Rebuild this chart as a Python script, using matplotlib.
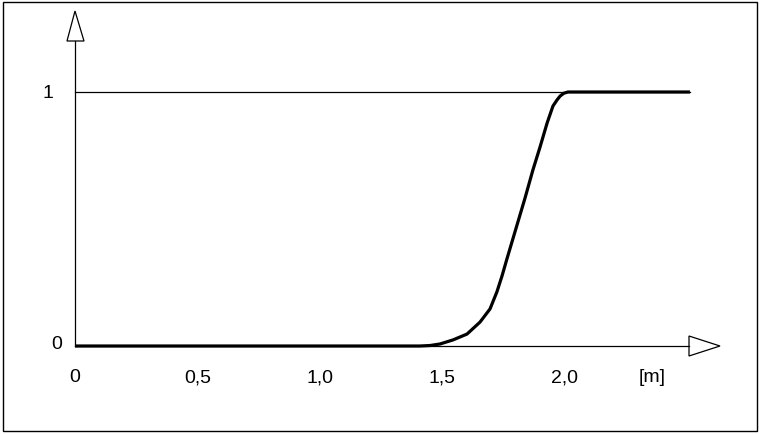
import matplotlib
matplotlib.use("Agg")
import matplotlib.pyplot as plt
from matplotlib.patches import Polygon, Rectangle

plt.rcParams['font.family'] = ['Liberation Sans', 'DejaVu Sans']

# curve data
x_vals = [0.0, 1.408, 1.45, 1.49, 1.543, 1.6, 1.653, 1.694, 1.722, 1.743, 1.763,
          1.80, 1.837, 1.869, 1.898, 1.927, 1.951, 1.967, 1.98, 1.995, 2.012, 2.51]
y_vals = [0.0, 0.0, 0.002, 0.008, 0.024, 0.047, 0.094, 0.146, 0.213, 0.276, 0.343,
          0.463, 0.583, 0.693, 0.783, 0.878, 0.945, 0.968, 0.984, 0.995, 1.0, 1.0]

x_ticks = [0, 0.5, 1.0, 1.5, 2.0]
x_tick_labels = ["0", "0,5", "1,0", "1,5", "2,0"]
y_ticks = [0, 1]
y_tick_labels = ["0", "1"]
x_unit = "[m]"

fig = plt.figure(figsize=(7.61, 4.35), dpi=100)
ax = fig.add_axes([0, 0, 1, 1])
sx = 245.0
sy = 254.0
ax.set_xlim(-75 / sx, (761 - 75) / sx)
ax.set_ylim(-(435 - 347) / sy, 347 / sy)
ax.axis('off')

# frame
ax.add_patch(Rectangle((0.004, 0.006), 0.991, 0.988, transform=ax.transAxes,
                       fill=False, edgecolor='black', lw=1.0))

def px(v):
    return (v - 75) / sx

def py(v):
    return (347 - v) / sy

# y axis with arrow
ax.plot([0, 0], [0, py(42)], color='black', lw=0.9)
ax.add_patch(Polygon([[px(67), py(42)], [px(84), py(42)], [0, py(12)]], closed=True,
                     fill=True, facecolor='white', edgecolor='black', lw=0.9))
# x axis with arrow
ax.plot([0, px(689)], [0, 0], color='black', lw=0.9)
ax.add_patch(Polygon([[px(689), py(337)], [px(689), py(357)], [px(720), py(347)]], closed=True,
                     fill=True, facecolor='white', edgecolor='black', lw=0.9))

# reference line at 1
ax.plot([0, x_vals[-1]], [1, 1], color='black', lw=0.9)

# curve
ax.plot(x_vals, y_vals, color='black', lw=2.3, solid_capstyle='butt', solid_joinstyle='round')

# tick labels
fs = 14
for xt, lab in zip(x_ticks, x_tick_labels):
    ax.text(xt, py(378), lab, ha='center', va='center', fontsize=fs)
ax.text(px(652), py(378), x_unit, ha='center', va='center', fontsize=fs)
y_label_x = [56.5, 48]
y_label_off = [2, 0]
for yt, lab, lx, off in zip(y_ticks, y_tick_labels, y_label_x, y_label_off):
    ax.text(px(lx), yt + off / sy, lab, ha='center', va='center', fontsize=fs)

fig.savefig("out.png", dpi=100)
